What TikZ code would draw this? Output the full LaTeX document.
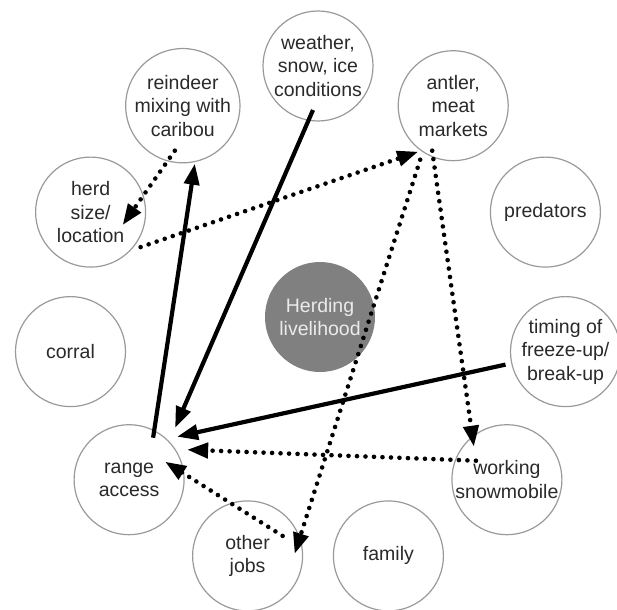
\documentclass[tikz,border=0pt]{standalone}
\usepackage{fontspec}
\setmainfont{Liberation Sans}
\usetikzlibrary{arrows.meta,calc}
\definecolor{ringgray}{HTML}{9A9A9A}
\definecolor{txtgray}{HTML}{2A2A2A}
\definecolor{hubgray}{HTML}{808080}
\tikzset{
  factor/.style={circle, draw=ringgray, line width=1.2pt, minimum size=110pt, inner sep=0pt,
    align=center, text=txtgray, font=\fontsize{19.5}{23.5}\selectfont},
  hub/.style={circle, fill=hubgray, minimum size=110pt, inner sep=0pt,
    align=center, text=white!92!black, font=\fontsize{19.5}{23.5}\selectfont},
  solidarrow/.style={line width=4.2pt, -{Triangle[length=21pt,width=15pt]}},
  dotarrow/.style={line width=4.6pt, line cap=round, dash pattern=on 0pt off 8.5pt,
    -{Triangle[length=21pt,width=15pt]}}
}
\begin{document}
\begin{tikzpicture}[x=1pt,y=-1pt]
\clip (0,0) rectangle (617,609);
\fill[white] (0,0) rectangle (617,609);
\node[hub] (hub) at (320,317) {Herding\\livelihood};
\node[factor] (weather) at (318,66) {weather,\\snow, ice\\conditions};
\node[factor] (antler) at (453.2,105.7) {antler,\\meat\\markets};
\node[factor] (pred) at (545.4,212.1) {predators};
\node[factor] (timing) at (565.5,351.6) {timing of\\freeze-up/\\break-up};
\node[factor] (work) at (506.9,479.7) {working\\snowmobile};
\node[factor] (family) at (388.4,555.9) {family};
\node[factor] (jobs) at (247.6,555.9) {other\\jobs};
\node[factor] (range) at (129.1,479.7) {range\\access};
\node[factor] (corral) at (70.5,351.6) {corral};
\node[factor] (herd) at (90.6,212.1) {herd\\size/\\location};
\node[factor] (rein) at (182.8,105.7) {reindeer\\mixing with\\caribou};
% connectors
\draw[dotarrow] ($(rein)+(-8,45)$) -- ($(herd)+(32,13)$);
\draw[dotarrow] ($(herd)+(50,35)$) -- ($(antler)+(-35,46)$);
\draw[solidarrow] ($(weather)+(-5,44)$) -- ($(range)+(46,-52)$);
\draw[solidarrow] ($(range)+(24,-42)$) -- ($(rein)+(12,58)$);
\draw[dotarrow] ($(antler)+(-21,45)$) -- ($(work)+(-33,-33)$);
\draw[dotarrow] ($(antler)+(-33,54)$) -- ($(jobs)+(47,-2)$);
\draw[solidarrow] ($(timing)+(-60,13)$) -- ($(range)+(48,-43)$);
\draw[dotarrow] ($(work)+(-31,-19)$) -- ($(range)+(58,-30)$);
\draw[dotarrow] ($(jobs)+(35,-20)$) -- ($(range)+(36,-18)$);
\end{tikzpicture}
\end{document}
